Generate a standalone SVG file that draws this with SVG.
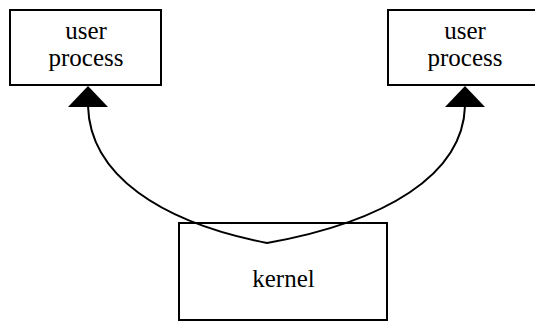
<svg xmlns="http://www.w3.org/2000/svg" width="535" height="321" viewBox="0 0 535 321">
<style>
.box{fill:#fff;stroke:#000;stroke-width:2}
.lbl{font-family:"Liberation Serif","Times New Roman",serif;font-size:25px;fill:#000;text-anchor:middle}
.conn{fill:none;stroke:#000;stroke-width:2}
.head{fill:#000;stroke:none}
</style>
<rect width="535" height="321" fill="#fff"/>
<g id="kernel">
<rect class="box" x="179" y="223" width="208" height="97"/>
<text class="lbl" x="283.5" y="287">kernel</text>
</g>
<g id="user-process-left">
<rect class="box" x="10" y="10" width="151" height="75"/>
<text class="lbl" x="86" y="39">user</text>
<text class="lbl" x="86" y="66">process</text>
</g>
<g id="user-process-right">
<rect class="box" x="388" y="10" width="154" height="75"/>
<text class="lbl" x="465" y="39">user</text>
<text class="lbl" x="465" y="66">process</text>
</g>
<g id="connectors">
<path class="conn" d="M88,106 C90,175 160,222 267,243 C385,222 463,175 465,106"/>
<polygon class="head" points="88,86 68,107 108,107"/>
<polygon class="head" points="465,86 445,107 485,107"/>
</g>
</svg>
